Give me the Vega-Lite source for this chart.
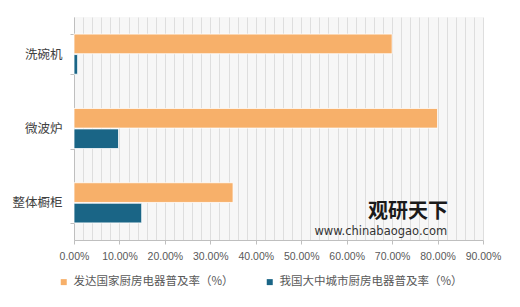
{
  "$schema": "https://vega.github.io/schema/vega-lite/v6.json",
  "width": 409,
  "height": 223,
  "autosize": {"type": "none"},
  "padding": {"left": 74, "top": 17, "right": 37, "bottom": 67},
  "background": "white",
  "config": {
    "font": "Noto Sans CJK SC",
    "view": {"fill": "#f7f7f7", "stroke": null}
  },
  "datasets": {
    "bars": [
      {"cat": "洗碗机", "series": "发达国家厨房电器普及率（%）", "value": 0.70},
      {"cat": "洗碗机", "series": "我国大中城市厨房电器普及率（%）", "value": 0.008},
      {"cat": "微波炉", "series": "发达国家厨房电器普及率（%）", "value": 0.80},
      {"cat": "微波炉", "series": "我国大中城市厨房电器普及率（%）", "value": 0.098},
      {"cat": "整体橱柜", "series": "发达国家厨房电器普及率（%）", "value": 0.35},
      {"cat": "整体橱柜", "series": "我国大中城市厨房电器普及率（%）", "value": 0.149}
    ],
    "name": [
      {"cat": "整体橱柜", "value": 0.735, "label": "观研天下"}
    ],
    "url": [
      {"cat": "整体橱柜", "value": 0.675, "label": "www.chinabaogao.com"}
    ]
  },
  "resolve": {"axis": {"x": "independent"}},
  "layer": [
    {
      "data": {"name": "bars"},
      "mark": {"type": "bar", "stroke": "white", "strokeWidth": 0.8},
      "encoding": {
        "y": {
          "field": "cat", "type": "nominal",
          "sort": ["洗碗机", "微波炉", "整体橱柜"],
          "scale": {"paddingInner": 0.46, "paddingOuter": 0.23},
          "axis": {
            "title": null, "domainColor": "#bfbfbf", "tickColor": "#bfbfbf",
            "tickBand": "extent", "tickSize": 4, "labelPadding": 8,
            "labelFontSize": 12.5, "labelColor": "#404040", "grid": false
          }
        },
        "yOffset": {
          "field": "series", "type": "nominal",
          "sort": ["发达国家厨房电器普及率（%）", "我国大中城市厨房电器普及率（%）"],
          "scale": {"paddingInner": 0.04}
        },
        "x": {
          "field": "value", "type": "quantitative",
          "scale": {"domain": [0, 0.9], "nice": false},
          "axis": {
            "title": null, "orient": "bottom",
            "values": [0,0.02,0.04,0.06,0.08,0.1,0.12,0.14,0.16,0.18,0.2,0.22,0.24,0.26,0.28,0.3,0.32,0.34,0.36,0.38,0.4,0.42,0.44,0.46,0.48,0.5,0.52,0.54,0.56,0.58,0.6,0.62,0.64,0.66,0.68,0.7,0.72,0.74,0.76,0.78,0.8,0.82,0.84,0.86,0.88,0.9],
            "grid": true, "gridColor": "#dedede", "gridWidth": 1,
            "labels": false, "ticks": false, "domain": false
          }
        },
        "color": {
          "field": "series", "type": "nominal",
          "sort": ["发达国家厨房电器普及率（%）", "我国大中城市厨房电器普及率（%）"],
          "scale": {"range": ["#F7B06A", "#1A6586"]},
          "legend": {
            "title": null, "orient": "none", "direction": "horizontal",
            "legendX": -16, "legendY": 259,
            "symbolType": "square", "symbolSize": 36, "symbolStrokeWidth": 0,
            "labelFontSize": 11.5, "labelColor": "#595959", "columnPadding": 30,
            "labelLimit": 300
          }
        }
      }
    },
    {
      "data": {"name": "name"},
      "mark": {"type": "text", "align": "center", "fontSize": 20, "fontWeight": "bold", "dy": 9, "color": "#1a1a1a"},
      "encoding": {
        "y": {"field": "cat", "type": "nominal", "sort": ["洗碗机", "微波炉", "整体橱柜"]},
        "x": {
          "field": "value", "type": "quantitative",
          "axis": {
            "title": null, "orient": "bottom", "values": [0,0.1,0.2,0.3,0.4,0.5,0.6,0.7,0.8,0.9],
            "format": ".2%", "grid": false, "domainColor": "#bfbfbf", "tickColor": "#bfbfbf",
            "tickSize": 4, "labelFont": "Liberation Sans", "labelFontSize": 10.5,
            "labelColor": "#595959", "labelPadding": 7, "labelOverlap": false,
            "labelFlush": false
          }
        },
        "text": {"field": "label"}
      }
    },
    {
      "data": {"name": "url"},
      "mark": {"type": "text", "align": "center", "fontSize": 11.5, "dy": 29, "color": "#333333", "font": "DejaVu Sans"},
      "encoding": {
        "y": {"field": "cat", "type": "nominal", "sort": ["洗碗机", "微波炉", "整体橱柜"]},
        "x": {"field": "value", "type": "quantitative", "axis": null},
        "text": {"field": "label"}
      }
    }
  ]
}
